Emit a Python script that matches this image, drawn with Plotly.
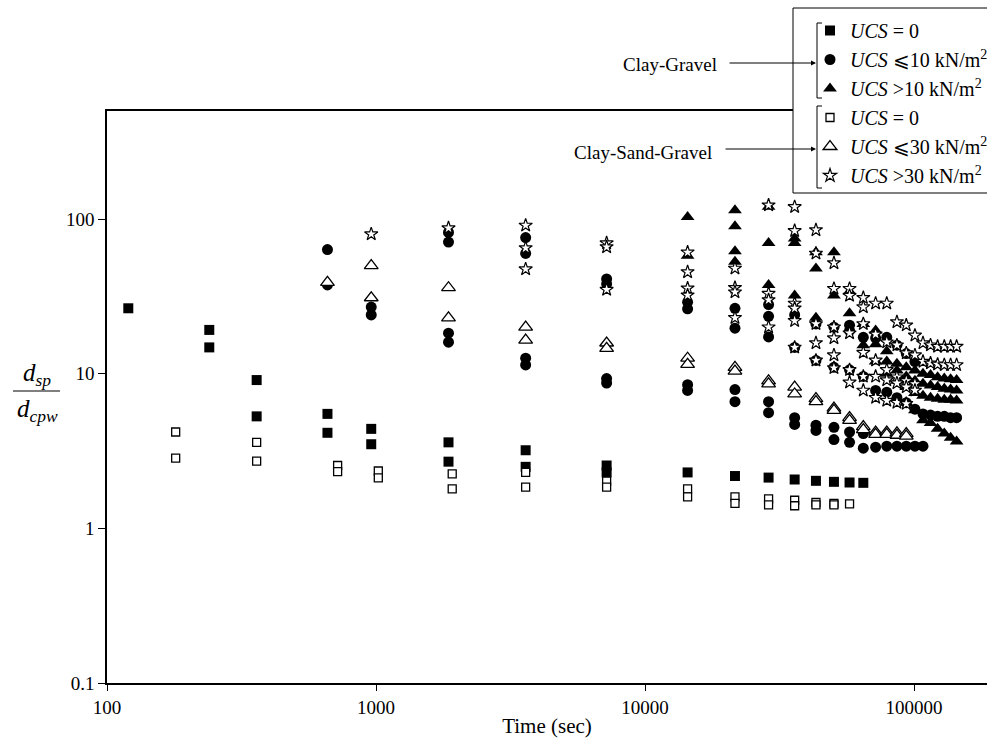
import plotly.graph_objects as go

# ---------------- data ----------------
x_ticks = [100, 1000, 10000, 100000]
x_tick_text = ["100", "1000", "10000", "100000"]
y_ticks = [0.1, 1, 10, 100]
y_tick_text = ["0.1", "1", "10", "100"]

legend_names = [
    "<i>UCS</i> = 0",
    "<i>UCS</i> ⩽10 kN/m<sup>2</sup>",
    "<i>UCS</i> >10 kN/m<sup>2</sup>",
    "<i>UCS</i> = 0",
    "<i>UCS</i> ⩽30 kN/m<sup>2</sup>",
    "<i>UCS</i> >30 kN/m<sup>2</sup>",
]

# Clay-Gravel, UCS = 0 (filled squares)
cg0_t = [120, 240, 240, 360, 360, 660, 660, 960, 960, 1860, 1860, 3600, 3600, 7200, 7200,
         14400, 21600, 28800, 36000, 43200, 50400, 57600, 64800]
cg0_v = [26.5, 19.2, 14.8, 9.1, 5.3, 5.5, 4.15, 4.4, 3.5, 3.6, 2.7, 3.2, 2.5, 2.55, 2.3,
         2.3, 2.18, 2.13, 2.07, 2.03, 2.0, 1.98, 1.97]

# Clay-Gravel, UCS <= 10 (filled circles)
cg10_t = [660, 660, 960, 960, 1860, 1860, 1860, 1860, 3600, 3600, 3600, 3600,
          7200, 7200, 7200, 7200, 14400, 14400, 14400, 14400, 21600, 21600, 21600, 21600,
          28800, 28800, 28800, 28800, 28800, 36000, 36000, 36000, 36000,
          43200, 43200, 43200, 43200, 50400, 50400, 50400, 50400,
          57600, 57600, 57600, 57600, 57600, 64800, 64800, 64800, 64800,
          72000, 72000, 72000, 79200, 79200, 79200, 86400, 86400, 86400,
          93600, 93600, 93600, 100800, 100800, 100800, 108000, 108000,
          115200, 122400, 129600, 136800, 144000]
cg10_v = [63.5, 37.5, 27, 24, 82, 71, 18.3, 16, 76, 60, 12.6, 11.4,
          41, 38, 9.3, 8.7, 29, 26.3, 8.5, 7.8, 26.5, 19.7, 7.9, 6.6,
          28, 23.5, 17.3, 6.6, 5.6, 24, 14.8, 5.2, 4.7,
          21, 12.2, 4.65, 4.3, 20, 11, 4.5, 3.75,
          20.6, 19, 10.6, 4.2, 3.6, 17.2, 9.6, 4.1, 3.3,
          17, 7.8, 3.35, 17.2, 7.6, 3.4, 15.3, 7.0, 3.4,
          13.5, 6.5, 3.4, 12, 5.9, 3.4, 5.5, 3.4,
          5.4, 5.3, 5.3, 5.2, 5.2]

# Clay-Gravel, UCS > 10 (filled triangles)
cg10p_t = [14400, 14400, 21600, 21600, 21600, 21600, 28800, 28800, 28800,
           36000, 36000, 36000, 43200, 43200, 43200, 50400, 50400, 57600, 57600,
           64800, 64800, 72000, 72000, 72000, 79200, 79200, 79200, 86400, 86400, 86400,
           93600, 93600, 93600, 93600, 100800, 100800, 100800, 100800,
           108000, 108000, 108000, 108000, 115200, 115200, 115200, 115200,
           122400, 122400, 122400, 122400, 129600, 129600, 129600, 129600,
           136800, 136800, 136800, 136800, 144000, 144000, 144000, 144000]
cg10p_v = [103, 58, 114, 90, 62, 53, 120, 70, 37.5,
           75, 70, 32, 61, 48, 23, 61, 32, 34, 24.6,
           21, 15.3, 19, 15.5, 12, 14, 12, 10, 11.6, 10.5, 9,
           11, 9.6, 8.2, 6.5, 10.5, 9, 7.5, 5.8,
           10, 8.6, 7.2, 5.0, 9.8, 8.4, 7.0, 4.8,
           9.5, 8.2, 6.9, 4.4, 9.3, 8.0, 6.8, 4.1,
           9.2, 7.9, 6.8, 3.85, 9.1, 7.8, 6.7, 3.65]

# Clay-Sand-Gravel, UCS = 0 (open squares)
csg0_t = [180, 180, 360, 360, 720, 720, 1020, 1020, 1920, 1920, 3600, 3600, 7200, 7200,
          14400, 14400, 21600, 21600, 28800, 28800, 36000, 36000, 43200, 43200,
          50400, 50400, 57600]
csg0_v = [4.2, 2.85, 3.6, 2.72, 2.55, 2.33, 2.35, 2.12, 2.25, 1.8, 2.3, 1.85, 2.02, 1.85,
          1.8, 1.6, 1.6, 1.45, 1.55, 1.42, 1.52, 1.4, 1.47, 1.42,
          1.45, 1.42, 1.44]

# Clay-Sand-Gravel, UCS <= 30 (open triangles)
csg30_t = [660, 960, 960, 1860, 1860, 3600, 3600, 7200, 7200, 14400, 14400,
           21600, 21600, 28800, 28800, 36000, 36000, 43200, 43200, 50400, 50400,
           57600, 57600, 64800, 64800, 72000, 72000, 79200, 79200, 86400, 86400,
           93600, 93600]
csg30_v = [39, 50, 31, 36, 23, 20, 16.5, 15.8, 14.6, 12.6, 11.5,
           11, 10.4, 9, 8.6, 8.2, 7.4, 6.9, 6.6, 6.0, 5.8,
           5.2, 5.0, 4.55, 4.35, 4.2, 4.05, 4.2, 4.05, 4.15, 4.0,
           4.1, 3.95]

# Clay-Sand-Gravel, UCS > 30 (open stars)
csg30p_t = [960, 1860, 3600, 3600, 3600, 7200, 7200, 7200,
            14400, 14400, 14400, 14400, 21600, 21600, 21600, 21600,
            28800, 28800, 28800, 28800, 36000, 36000, 36000, 36000, 36000, 36000,
            43200, 43200, 43200, 43200, 43200, 50400, 50400, 50400, 50400, 50400, 50400,
            57600, 57600, 57600, 57600, 57600, 64800, 64800, 64800, 64800, 64800, 64800,
            72000, 72000, 72000, 72000, 72000, 79200, 79200, 79200, 79200, 79200,
            86400, 86400, 86400, 86400, 86400, 93600, 93600, 93600, 93600, 93600,
            100800, 100800, 100800, 100800, 108000, 108000, 115200, 115200,
            122400, 122400, 129600, 129600, 136800, 136800, 144000, 144000]
csg30p_v = [80, 87.5, 91, 65, 47.5, 70, 66, 35,
            61, 45.5, 35.7, 32.2, 48, 36, 33.7, 23,
            123, 33, 30, 20, 120, 84, 28.5, 26.5, 22, 14.8,
            85, 60, 21, 15.8, 12.2, 52, 35.5, 20, 17, 13.2, 10.9,
            35.5, 32, 18.3, 10.6, 8.8, 31, 27, 21, 13.7, 9.6, 7.8,
            28.5, 18, 12.2, 9.6, 7.0, 28.5, 16, 10.6, 9.1, 6.7,
            21.6, 15.3, 9.5, 8.7, 6.5, 20.6, 13.6, 9.0, 8.2, 6.4,
            17.7, 13.2, 8.6, 7.8, 15.8, 12.0, 15.3, 11.7,
            15.0, 11.5, 15.0, 11.4, 15.0, 11.4, 15.0, 11.4]

# ---------------- figure ----------------
FONT = "Liberation Serif"
L, T, R, B = 107, 111, 987, 683
W, H = R - L, B - T


def px(x):
    return (x - L) / W


def py(y):
    return (B - y) / H


series = [
    (cg0_t, cg0_v, dict(symbol="square", size=10, color="black")),
    (cg10_t, cg10_v, dict(symbol="circle", size=11, color="black")),
    (cg10p_t, cg10p_v, dict(symbol="triangle-up", size=12, color="black")),
    (csg0_t, csg0_v, dict(symbol="square", size=8, color="white",
                          line=dict(color="black", width=1.3))),
    (csg30_t, csg30_v, dict(symbol="triangle-up", size=12, color="white",
                            line=dict(color="black", width=1.3))),
    (csg30p_t, csg30p_v, dict(symbol="star", size=10, color="white",
                              line=dict(color="black", width=1.2))),
]

fig = go.Figure()
for (t, v, mk), name in zip(series, legend_names):
    fig.add_trace(go.Scatter(x=t, y=v, mode="markers", marker=mk, name=name,
                             cliponaxis=False))

line_k = dict(color="black", width=1)
shapes = [
    # legend frame
    dict(type="rect", xref="paper", yref="paper", x0=px(793), x1=px(1010),
         y0=py(193), y1=py(8), fillcolor="white", line=line_k, layer="above"),
    # brackets
    dict(type="line", xref="paper", yref="paper", x0=px(817), x1=px(817), y0=py(23), y1=py(98),
         line=line_k, layer="above"),
    dict(type="line", xref="paper", yref="paper", x0=px(817), x1=px(822), y0=py(23), y1=py(23),
         line=line_k, layer="above"),
    dict(type="line", xref="paper", yref="paper", x0=px(817), x1=px(822), y0=py(98), y1=py(98),
         line=line_k, layer="above"),
    dict(type="line", xref="paper", yref="paper", x0=px(817), x1=px(817), y0=py(106), y1=py(188),
         line=line_k, layer="above"),
    dict(type="line", xref="paper", yref="paper", x0=px(817), x1=px(822), y0=py(106), y1=py(106),
         line=line_k, layer="above"),
    dict(type="line", xref="paper", yref="paper", x0=px(817), x1=px(822), y0=py(188), y1=py(188),
         line=line_k, layer="above"),
    # fraction bar of y title
    dict(type="line", xref="paper", yref="paper", x0=px(13), x1=px(60), y0=py(391), y1=py(391),
         line=dict(color="black", width=1.2)),
]

annotations = [
    dict(xref="paper", yref="paper", x=px(37), y=py(374), text="<i>d</i><sub><i>sp</i></sub>",
         showarrow=False, font=dict(family=FONT, size=25, color="black"),
         xanchor="center", yanchor="middle"),
    dict(xref="paper", yref="paper", x=px(37), y=py(410), text="<i>d</i><sub><i>cpw</i></sub>",
         showarrow=False, font=dict(family=FONT, size=25, color="black"),
         xanchor="center", yanchor="middle"),
    dict(xref="paper", yref="paper", x=px(719), y=py(64), text="Clay-Gravel",
         showarrow=False, font=dict(family=FONT, size=19, color="black"),
         xanchor="right", yanchor="middle"),
    dict(xref="paper", yref="paper", x=px(714), y=py(152), text="Clay-Sand-Gravel",
         showarrow=False, font=dict(family=FONT, size=19, color="black"),
         xanchor="right", yanchor="middle"),
    dict(xref="paper", yref="paper", x=px(816), y=py(63), ax=-88, ay=0, text="",
         showarrow=True, arrowhead=2, arrowsize=1, arrowwidth=1, arrowcolor="black",
         standoff=0, startstandoff=0),
    dict(xref="paper", yref="paper", x=px(816), y=py(149), ax=-92, ay=0, text="",
         showarrow=True, arrowhead=2, arrowsize=1, arrowwidth=1, arrowcolor="black",
         standoff=0, startstandoff=0),
]

fig.update_layout(
    width=987, height=740,
    margin=dict(l=L, r=0, t=T, b=740 - B, autoexpand=False),
    paper_bgcolor="white", plot_bgcolor="white",
    font=dict(family=FONT, color="black"),
    showlegend=True,
    legend=dict(x=px(810), y=py(11), xanchor="left", yanchor="top",
                bgcolor="rgba(0,0,0,0)", borderwidth=0,
                font=dict(family=FONT, size=20, color="black")),
    shapes=shapes,
    annotations=annotations,
    xaxis=dict(type="log", range=[2, 2 + W / 269.0], tickvals=x_ticks, ticktext=x_tick_text,
               ticks="outside", ticklen=6, tickwidth=1.2, tickcolor="black",
               showline=True, linewidth=1.5, linecolor="black", mirror=True,
               showgrid=False, zeroline=False,
               tickfont=dict(family=FONT, size=19, color="black"),
               title=dict(text="Time (sec)", font=dict(family=FONT, size=21, color="black"),
                          standoff=2)),
    yaxis=dict(type="log", range=[-1, 2 + (219 - T) / 154.5], tickvals=y_ticks,
               ticktext=y_tick_text,
               ticks="outside", ticklen=7, tickwidth=1.2, tickcolor="black",
               showline=True, linewidth=1.5, linecolor="black",
               showgrid=False, zeroline=False,
               tickfont=dict(family=FONT, size=19, color="black")),
)

fig.write_html("out.html")
